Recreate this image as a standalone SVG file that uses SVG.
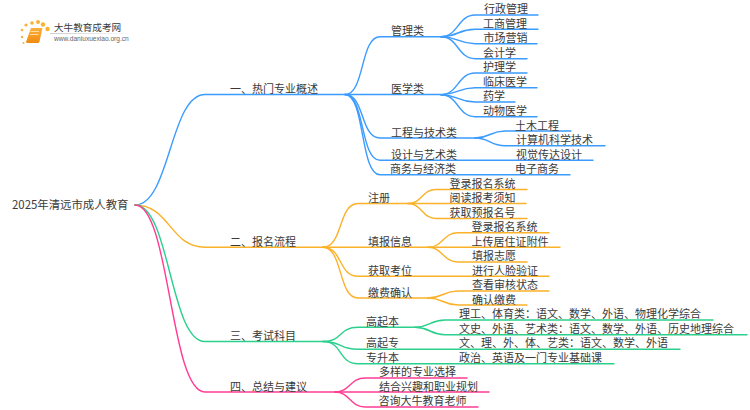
<svg xmlns="http://www.w3.org/2000/svg" width="750" height="410" viewBox="0 0 750 410">
<defs>
<linearGradient id="fade"><stop offset="0" stop-color="#ccc"/><stop offset="1" stop-color="#fff"/></linearGradient>
<linearGradient id="book" x1="0" y1="0" x2="0" y2="1"><stop offset="0" stop-color="#fbb03b"/><stop offset="1" stop-color="#f08a10"/></linearGradient>
</defs>
<style>
text{font-family:"Noto Sans CJK SC","Noto Sans",sans-serif;font-size:11px;fill:#3a3a3a}
.c path{fill:none;stroke-width:1.4;stroke-linecap:round}
.b path{stroke:#3b9bff}.o path{stroke:#fbb128}.g path{stroke:#2bd08c}.p path{stroke:#ff3d94}
.d{fill:#f9b233}
</style>
<rect width="750" height="410" fill="#fff"/>
<g id="logo">
<circle class="d" cx="32" cy="23" r="1.8"/><circle class="d" cx="38" cy="22" r="2"/><circle class="d" cx="26" cy="25" r="1.6"/><circle class="d" cx="43" cy="24.500" r="2.200"/><circle class="d" cx="47.500" cy="29" r="2.200"/><circle class="d" cx="22" cy="30" r="1.300"/><circle class="d" cx="22" cy="37" r="1.200"/><circle class="d" cx="23.500" cy="43" r="1"/>
<path d="M31 28h11.500l-3 13.500q-.5 1.500-2 1.500h-10.500q-1 0-.8-1.500z" fill="url(#book)"/>
<path d="M30.500 31.500h8.500M30 34.500h8.500" stroke="#fff3d0" stroke-width=".7" fill="none"/>
<rect x="50" y="33" width="84" height="1" fill="url(#fade)"/>
<text x="54" y="30.800" style="font-size:9.600px">大牛教育成考网</text>
<text x="54" y="41" style="font-family:'Liberation Sans',sans-serif;font-size:6.600px;fill:#666">www.daniuxuexiao.org.cn</text>
</g>
<g id="connectors" class="c">
<g class="b">
<path d="M135 205C170 205 170 94.500 205 94.500H345"/>
<path d="M345 94.500C365 94.500 360 36.700 380 36.700H441"/>
<path d="M345 94.500H441"/>
<path d="M345 94.500C365 94.500 360 138 380 138H475"/>
<path d="M345 94.500C365 94.500 360 160.300 380 160.300H593"/>
<path d="M345 94.500C365 94.500 360 174.700 380 174.700H570"/>
<path d="M441 36.700C458 36.700 458 15 475 15H538"/>
<path d="M441 36.700C458 36.700 458 29.300 475 29.300H538"/>
<path d="M441 36.700C458 36.700 458 43.700 475 43.700H537"/>
<path d="M441 36.700C458 36.700 458 58.700 475 58.700H527"/>
<path d="M441 94.700C458 94.700 458 73 475 73H527"/>
<path d="M441 94.700C458 94.700 458 87.700 475 87.700H537"/>
<path d="M441 94.700C458 94.700 458 102 475 102H515"/>
<path d="M441 94.700C458 94.700 458 116.700 475 116.700H537"/>
<path d="M475 138C490 138 490 131 505 131H571"/>
<path d="M475 138C490 138 490 145.700 505 145.700H605"/>
</g>
<g class="o">
<path d="M135 205C170 205 170 247.300 205 247.300H323"/>
<path d="M323 247.300C343 247.300 338 203.500 358 203.500H408"/>
<path d="M323 247.300H428"/>
<path d="M323 247.300C343 247.300 338 276.300 358 276.300H549"/>
<path d="M323 247.300C343 247.300 338 298 358 298H428"/>
<path d="M408 203.500C422 203.500 422 189.500 436 189.500H527"/>
<path d="M408 203.500H526"/>
<path d="M408 203.500C422 203.500 422 218.500 436 218.500H527"/>
<path d="M428 247.300C443 247.300 443 232.700 458 232.700H549"/>
<path d="M428 247.300H560"/>
<path d="M428 247.300C443 247.300 443 262 458 262H527"/>
<path d="M428 298C443 298 443 291 458 291H549"/>
<path d="M428 298C443 298 443 305 458 305H527"/>
</g>
<g class="g">
<path d="M135 205C170 205 170 341.500 205 341.500H323"/>
<path d="M323 341.500C343 341.500 338 327.300 358 327.300H415"/>
<path d="M323 341.500C343 341.500 338 349.300 358 349.300H680"/>
<path d="M323 341.500C343 341.500 338 363.700 358 363.700H614"/>
<path d="M415 327.300C430 327.300 430 320 445 320H713"/>
<path d="M415 327.300C430 327.300 430 334.700 445 334.700H747"/>
</g>
<g class="p">
<path d="M135 205C170 205 170 392 205 392H335"/>
<path d="M335 392C350 392 350 378 365 378H467"/>
<path d="M335 392H489"/>
<path d="M335 392C350 392 350 407 365 407H478"/>
</g>
</g>
<g id="root"><text x="12" y="209" style="font-size:11.400px">2025年清远市成人教育</text></g>
<g id="n1"><text x="230" y="92.500">一、热门专业概述</text></g>
<g id="n1-1"><text x="391" y="35">管理类</text><text x="484" y="13">行政管理</text><text x="483" y="27.500">工商管理</text><text x="483.500" y="42">市场营销</text><text x="483" y="56.500">会计学</text></g>
<g id="n1-2"><text x="391" y="93">医学类</text><text x="483" y="71">护理学</text><text x="483" y="85.500">临床医学</text><text x="483" y="100">药学</text><text x="483" y="114.500">动物医学</text></g>
<g id="n1-3"><text x="391" y="136.500">工程与技术类</text><text x="515" y="129.500">土木工程</text><text x="516" y="144">计算机科学技术</text></g>
<g id="n1-4"><text x="391" y="158.500">设计与艺术类</text><text x="516" y="158.500">视觉传达设计</text></g>
<g id="n1-5"><text x="390" y="173">商务与经济类</text><text x="515" y="173">电子商务</text></g>
<g id="n2"><text x="230" y="245.500">二、报名流程</text></g>
<g id="n2-1"><text x="368" y="202">注册</text><text x="449.500" y="187.500">登录报名系统</text><text x="449.500" y="202">阅读报考须知</text><text x="449.500" y="216.500">获取预报名号</text></g>
<g id="n2-2"><text x="368" y="245.500">填报信息</text><text x="471.500" y="231">登录报名系统</text><text x="471.500" y="245.500">上传居住证附件</text><text x="472" y="260">填报志愿</text></g>
<g id="n2-3"><text x="368" y="274.500">获取考位</text><text x="472" y="274.500">进行人脸验证</text></g>
<g id="n2-4"><text x="368" y="296.500">缴费确认</text><text x="472" y="289">查看审核状态</text><text x="472" y="303.500">确认缴费</text></g>
<g id="n3"><text x="230" y="339.500">三、考试科目</text></g>
<g id="n3-1"><text x="366" y="325.500">高起本</text><text x="459" y="318">理工、体育类：语文、数学、外语、物理化学综合</text><text x="459" y="332.500">文史、外语、艺术类：语文、数学、外语、历史地理综合</text></g>
<g id="n3-2"><text x="366" y="347">高起专</text><text x="459" y="347">文、理、外、体、艺类：语文、数学、外语</text></g>
<g id="n3-3"><text x="366" y="361.500">专升本</text><text x="459" y="361.500">政治、英语及一门专业基础课</text></g>
<g id="n4"><text x="230" y="390.500">四、总结与建议</text><text x="379" y="376">多样的专业选择</text><text x="379" y="390.500">结合兴趣和职业规划</text><text x="378.500" y="405">咨询大牛教育老师</text></g>
</svg>
